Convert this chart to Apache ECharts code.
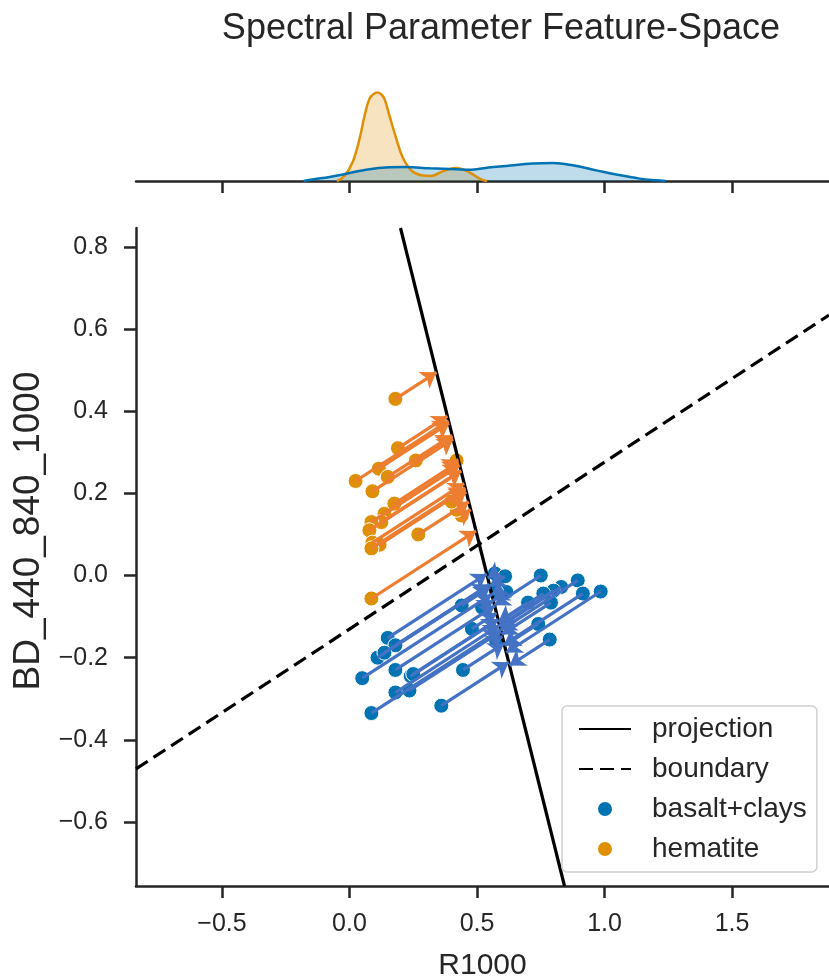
<!DOCTYPE html>
<html>
<head>
<meta charset="utf-8">
<script src="https://cdn.jsdelivr.net/npm/echarts@6/dist/echarts.min.js"></script>
<style>
  html, body { margin: 0; padding: 0; background: #fff; }
  #chart { width: 829px; height: 978px; }
</style>
</head>
<body>
<div id="chart"></div>
<script>
// axis ranges and ticks
const xRange = [-0.837, 1.88];
const yRange = [-0.756, 0.846];
const xTicks = [-0.5, 0.0, 0.5, 1.0, 1.5];
const yTicks = [-0.6, -0.4, -0.2, 0.0, 0.2, 0.4, 0.6, 0.8];

// hematite samples (R1000, BD_440_840_1000)
const hemX = [0.18, 0.19, 0.26, 0.115, 0.15, 0.024, 0.09, 0.42, 0.176, 0.137, 0.125,
              0.086, 0.078, 0.09, 0.118, 0.086, 0.27, 0.44, 0.42, 0.40, 0.086];
const hemY = [0.43, 0.31, 0.28, 0.26, 0.24, 0.23, 0.205, 0.28, 0.175, 0.15, 0.13,
              0.13, 0.11, 0.08, 0.075, 0.066, 0.10, 0.146, 0.16, 0.18, -0.056];

// basalt+clays samples
const basX = [0.57, 0.61, 0.75, 0.895, 0.83, 0.80, 0.915, 0.985, 0.76, 0.615, 0.575,
              0.70, 0.79, 0.44, 0.74, 0.48, 0.575, 0.785, 0.15, 0.18, 0.11, 0.137,
              0.05, 0.18, 0.24, 0.25, 0.18, 0.235, 0.086, 0.36, 0.445, 0.52];
const basY = [0.005, -0.002, 0.0, -0.012, -0.028, -0.037, -0.044, -0.039, -0.044, -0.04, -0.04,
              -0.066, -0.066, -0.073, -0.118, -0.13, -0.158, -0.156, -0.152, -0.17, -0.2, -0.188,
              -0.25, -0.23, -0.245, -0.24, -0.285, -0.28, -0.335, -0.317, -0.23, -0.078];

// projection axis and decision boundary (two points each)
const projectionLine = [[0.2, 0.846], [0.843, -0.756]];
const boundaryLine = [[-0.837, -0.471], [1.88, 0.634]];

// marginal KDE curves
const kdeHemX = [-0.05, -0.02, 0.012, 0.04, 0.059, 0.078, 0.095, 0.109, 0.123, 0.137, 0.157,
                 0.183, 0.208, 0.242, 0.281, 0.32, 0.365, 0.418, 0.47, 0.516, 0.54];
const kdeHemY = [0, 0.36, 1.34, 3.05, 4.64, 5.86, 6.21, 6.31, 6.21, 5.86, 4.64,
                 3.05, 1.71, 0.76, 0.41, 0.36, 0.69, 0.93, 0.62, 0.12, 0];
const kdeBasX = [-0.18, -0.14, -0.078, -0.013, 0.065, 0.157, 0.222, 0.314, 0.418, 0.48,
                 0.545, 0.614, 0.718, 0.797, 0.876, 0.967, 1.046, 1.137, 1.2, 1.24];
const kdeBasY = [0, 0.12, 0.29, 0.52, 0.81, 0.98, 1.0, 0.91, 0.84, 0.81,
                 0.96, 1.07, 1.24, 1.29, 1.12, 0.76, 0.46, 0.17, 0.05, 0];

const BLUE = "#0173B2";
const ORANGE = "#DE8F05";
const ARROW_BLUE = "#4472C4";
const ARROW_ORANGE = "#ED7D31";
const INK = "#262626";
const FONT = "'Liberation Sans', Arial, sans-serif";

const zip = (xs, ys) => xs.map((x, i) => [x, ys[i]]);

// arrow from each point to its projection onto the projection line
const p0 = projectionLine[0], p1 = projectionLine[1];
const dx = p1[0] - p0[0], dy = p1[1] - p0[1];
const dl = Math.hypot(dx, dy);
const ux = dx / dl, uy = dy / dl;
function arrowsFor(xs, ys) {
  return xs.map((x, i) => {
    const t = (x - p0[0]) * ux + (ys[i] - p0[1]) * uy;
    return { coords: [[x, ys[i]], [p0[0] + t * ux, p0[1] + t * uy]] };
  });
}

const fmt = (v) => (v < 0 ? "\u2212" : "") + Math.abs(v).toFixed(1);

const chart = echarts.init(document.getElementById("chart"), null, { renderer: "canvas" });

const option = {
  backgroundColor: "#fff",
  animation: false,
  textStyle: { fontFamily: FONT },
  title: {
    text: "Spectral Parameter Feature-Space",
    left: 496,
    textAlign: "center",
    top: 6,
    textStyle: { fontFamily: FONT, fontSize: 36, fontWeight: "normal", color: INK },
  },
  grid: [
    { left: 136, right: 0, top: 228, bottom: 92, outerBoundsMode: "none" },
    { left: 136, right: 0, top: 85, bottom: 797, outerBoundsMode: "none" },
  ],
  xAxis: [
    {
      gridIndex: 0, type: "value", min: xRange[0], max: xRange[1],
      name: "R1000", nameLocation: "middle", nameGap: 65,
      nameTextStyle: { fontFamily: FONT, fontSize: 30, color: INK },
      axisLine: { show: true, onZero: false, lineStyle: { color: INK, width: 2.5 } },
      axisTick: { show: true, length: 12, lineStyle: { color: INK, width: 2.5 }, customValues: xTicks },
      axisLabel: { fontFamily: FONT, fontSize: 25, color: INK, margin: 26, customValues: xTicks, formatter: fmt },
      splitLine: { show: false },
    },
    {
      gridIndex: 1, type: "value", min: xRange[0], max: xRange[1],
      axisLine: { show: true, onZero: false, lineStyle: { color: INK, width: 2.5 } },
      axisTick: { show: true, length: 12, lineStyle: { color: INK, width: 2.5 }, customValues: xTicks },
      axisLabel: { show: false },
      splitLine: { show: false },
    },
  ],
  yAxis: [
    {
      gridIndex: 0, type: "value", min: yRange[0], max: yRange[1],
      name: "BD_440_840_1000", nameLocation: "middle", nameGap: 84, nameRotate: 90,
      nameTextStyle: { fontFamily: FONT, fontSize: 37, color: INK, padding: [0, 0, 0, 52] },
      axisLine: { show: true, onZero: false, lineStyle: { color: INK, width: 2.5 } },
      axisTick: { show: true, length: 12, lineStyle: { color: INK, width: 2.5 }, customValues: yTicks },
      axisLabel: { fontFamily: FONT, fontSize: 25, color: INK, margin: 28, customValues: yTicks, formatter: fmt },
      splitLine: { show: false },
    },
    {
      gridIndex: 1, type: "value", min: 0, max: 6.85,
      axisLine: { show: false }, axisTick: { show: false },
      axisLabel: { show: false }, splitLine: { show: false },
    },
  ],
  legend: {
    orient: "vertical",
    left: 562, top: 706,
    padding: [8, 10, 8, 16],
    itemWidth: 52, itemHeight: 16, itemGap: 10,
    backgroundColor: "rgba(255,255,255,0.85)",
    borderColor: "#d0d0d0", borderWidth: 1.5, borderRadius: 5,
    textStyle: { fontFamily: FONT, fontSize: 28, lineHeight: 30, color: INK, padding: [0, 0, 0, 16] },
    data: [
      { name: "projection", itemStyle: { opacity: 0 } },
      { name: "boundary", itemStyle: { opacity: 0 } },
      { name: "basalt+clays", icon: "circle" },
      { name: "hematite", icon: "circle" },
    ],
  },
  series: [
    {
      name: "hematite KDE", type: "line", xAxisIndex: 1, yAxisIndex: 1,
      data: zip(kdeHemX, kdeHemY), smooth: 0.4, symbol: "none",
      lineStyle: { color: ORANGE, width: 2.5 },
      areaStyle: { color: ORANGE, opacity: 0.25 },
    },
    {
      name: "basalt KDE", type: "line", xAxisIndex: 1, yAxisIndex: 1,
      data: zip(kdeBasX, kdeBasY), smooth: 0.4, symbol: "none",
      lineStyle: { color: BLUE, width: 2.5 },
      areaStyle: { color: BLUE, opacity: 0.25 },
    },
    {
      name: "projection", type: "line", data: projectionLine, symbol: "none",
      color: "#000", lineStyle: { color: "#000", width: 3.2 }, z: 3,
    },
    {
      name: "boundary", type: "line", data: boundaryLine, symbol: "none",
      color: "#000", lineStyle: { color: "#000", width: 3.2, type: [14, 7] }, z: 3,
    },
    {
      name: "basalt+clays", type: "scatter", data: zip(basX, basY), symbolSize: 15,
      itemStyle: { color: BLUE, borderColor: "#fff", borderWidth: 1, opacity: 1 }, z: 2,
    },
    {
      name: "hematite", type: "scatter", data: zip(hemX, hemY), symbolSize: 15,
      itemStyle: { color: ORANGE, borderColor: "#fff", borderWidth: 1, opacity: 1 }, z: 2,
    },
    {
      name: "hematite arrows", type: "lines", coordinateSystem: "cartesian2d",
      data: arrowsFor(hemX, hemY), symbol: ["none", "arrow"], symbolSize: 15,
      lineStyle: { color: ARROW_ORANGE, width: 3.2, opacity: 1 }, z: 4,
    },
    {
      name: "basalt arrows", type: "lines", coordinateSystem: "cartesian2d",
      data: arrowsFor(basX, basY), symbol: ["none", "arrow"], symbolSize: 15,
      lineStyle: { color: ARROW_BLUE, width: 3.2, opacity: 1 }, z: 4,
    },
  ],
};

chart.setOption(option);
</script>
</body>
</html>
